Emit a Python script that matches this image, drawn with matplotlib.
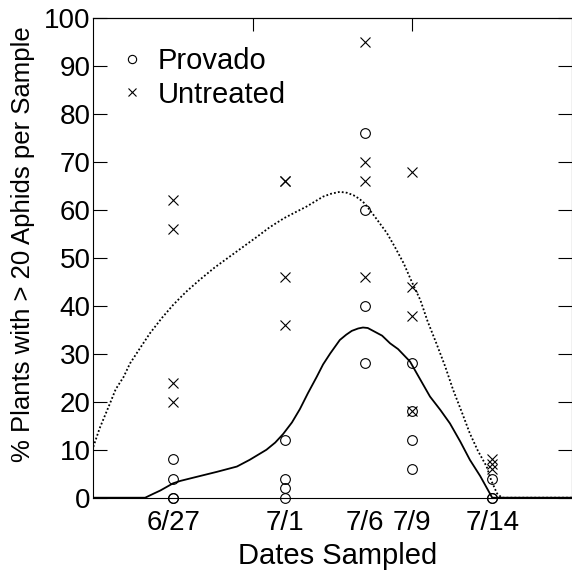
import matplotlib
matplotlib.use("Agg")
import matplotlib.pyplot as plt

plt.rcParams['font.family'] = ['Liberation Sans', 'DejaVu Sans']

# sample dates and where they sit on the x axis
date_labels = ['6/27', '7/1', '7/6', '7/9', '7/14']
date_pos = [1.0, 2.4, 3.4, 4.0, 5.0]

# individual samples (% plants with > 20 aphids)
provado_x = [1.0, 1.0, 1.0, 1.0,
             2.4, 2.4, 2.4, 2.4,
             3.4, 3.4, 3.4, 3.4,
             4.0, 4.0, 4.0, 4.0,
             5.0, 5.0, 5.0]
provado_y = [0, 0, 4, 8,
             0, 2, 4, 12,
             28, 40, 60, 76,
             6, 12, 18, 28,
             0, 0, 4]
untreated_x = [1.0, 1.0, 1.0, 1.0,
               2.4, 2.4, 2.4, 2.4,
               3.4, 3.4, 3.4, 3.4,
               4.0, 4.0, 4.0, 4.0,
               5.0, 5.0, 5.0]
untreated_y = [20, 24, 56, 62,
               36, 46, 66, 66,
               46, 66, 70, 95,
               18, 38, 44, 68,
               6, 7, 8]

# smoothed trends
provado_fit_x = [0.00, 0.65, 0.75, 0.84, 1.00, 1.09, 1.21, 1.55, 1.80, 1.96, 2.17,
                 2.28, 2.38, 2.49, 2.59, 2.69, 2.80, 2.88, 2.97, 3.09, 3.17, 3.24,
                 3.32, 3.38, 3.44, 3.53, 3.62, 3.72, 3.82, 3.97, 4.10, 4.22, 4.35,
                 4.47, 4.60, 4.72, 4.85, 4.95, 5.00, 6.00]
provado_fit_y = [0, 0, 0.8, 1.5, 3.0, 3.5, 4.0, 5.4, 6.5, 7.9, 10.0,
                 11.5, 13.3, 15.7, 18.5, 21.8, 25.2, 27.8, 30.1, 32.9, 34.0, 34.8,
                 35.3, 35.5, 35.4, 34.6, 33.8, 32.2, 31.0, 28.4, 24.6, 21.1, 18.3,
                 15.5, 11.7, 7.9, 4.5, 1.5, 0, 0]
untreated_fit_x = [0.00, 0.08, 0.21, 0.28, 0.38, 0.46, 0.59, 0.71, 0.86, 1.00, 1.16,
                   1.33, 1.52, 1.71, 2.05, 2.21, 2.39, 2.54, 2.67, 2.78, 2.88, 2.98,
                   3.09, 3.18, 3.26, 3.33, 3.40, 3.53, 3.68, 3.78, 3.89, 3.99, 4.10,
                   4.19, 4.30, 4.41, 4.51, 4.62, 4.72, 4.82, 4.93, 4.99, 5.06, 5.12,
                   6.00]
untreated_fit_y = [10.6, 14.5, 19.7, 22.6, 25.2, 28.0, 31.3, 34.3, 37.5, 40.2, 42.9,
                   45.4, 48.0, 50.3, 54.4, 56.4, 58.3, 59.6, 60.7, 61.8, 62.8, 63.4,
                   63.8, 63.6, 63.1, 62.4, 61.4, 58.6, 55.2, 52.3, 48.9, 45.1, 41.2,
                   36.8, 32.2, 27.4, 22.5, 17.8, 13.4, 9.8, 6.5, 3.5, 0.9, 0,
                   0]

fig = plt.figure(figsize=(5.72, 5.73), dpi=100)
ax = fig.add_axes([0.1631, 0.1314, 0.8369, 0.8367])

ax.plot(provado_fit_x, provado_fit_y, color='black', lw=1.3)
ax.plot(untreated_fit_x, untreated_fit_y, color='black', lw=1.3, ls=(0, (1, 1.2)))

ax.plot(provado_x, provado_y, 'o', ms=7, mfc='none', mec='black', mew=0.8,
        label='Provado', clip_on=False)
ax.plot(untreated_x, untreated_y, 'x', ms=6.5, mec='black', mew=0.8,
        label='Untreated', clip_on=False)

ax.set_xlim(0, 6)
ax.set_ylim(0, 100)
ax.set_yticks(range(0, 101, 10))
ax.set_xticks(date_pos)
ax.set_xticklabels(date_labels)

ax.tick_params(axis='y', direction='in', length=10, width=0.8, labelsize=20,
               pad=2, right=True)
ax.tick_params(axis='x', length=0, labelsize=20, pad=9)

top = ax.secondary_xaxis('top')
top.set_xticks([2, 4])
top.set_xticklabels(['', ''])
top.tick_params(direction='in', length=9.5, width=0.8)
top.spines['top'].set_linewidth(0.8)

for s in ax.spines.values():
    s.set_linewidth(0.8)

ax.set_xlabel('Dates Sampled', fontsize=21)
ax.xaxis.set_label_coords(0.511, -0.093)
ax.set_ylabel('% Plants with > 20 Aphids per Sample', fontsize=18.5)
ax.yaxis.set_label_coords(-0.122, 0.529)

leg = ax.legend(loc='upper left', frameon=False, fontsize=21, markerscale=0.85,
                handlelength=1.0, handletextpad=0.4, labelspacing=0.2,
                borderaxespad=0.0, bbox_to_anchor=(0.025, 0.965))

fig.savefig('out.png', dpi=100)
